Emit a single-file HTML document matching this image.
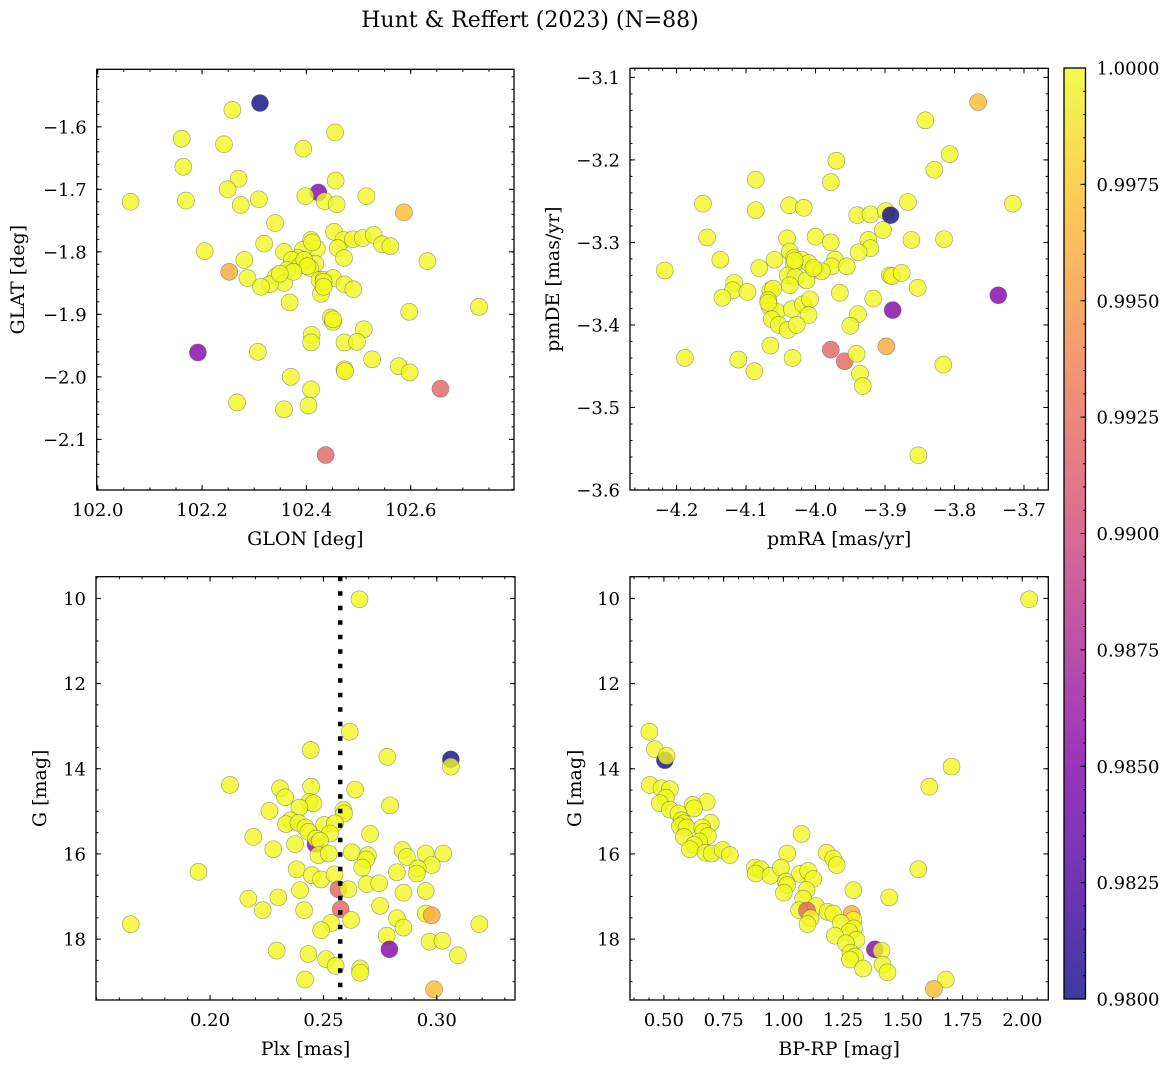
<!DOCTYPE html>
<html><head><meta charset="utf-8"><style>
html,body{margin:0;padding:0;background:#fff;}
svg{display:block;font-family:"DejaVu Serif","Liberation Serif",serif;}
</style></head><body>
<svg id="fig" width="1173" height="1067" viewBox="0 0 1173 1067" xmlns="http://www.w3.org/2000/svg">
<text x="530" y="27" font-size="22" text-anchor="middle">Hunt &amp; Reffert (2023) (N=88)</text>
</svg>
<script>
// ---- data ----
const p1x=[102.311,102.258,102.161,102.242,102.455,102.394,102.164,102.270,102.249,102.456,102.423,102.063,102.169,102.309,102.398,102.435,102.458,102.274,102.515,102.587,102.340,102.453,102.471,102.489,102.508,102.529,102.545,102.561,102.409,102.420,102.460,102.393,102.357,102.319,102.205,102.281,102.472,102.632,102.384,102.372,102.388,102.417,102.407,102.252,102.363,102.342,102.287,102.357,102.330,102.313,102.425,102.433,102.451,102.473,102.490,102.428,102.368,102.597,102.731,102.447,102.451,102.510,102.410,102.409,102.473,102.497,102.192,102.307,102.526,102.473,102.474,102.577,102.598,102.370,102.409,102.657,102.267,102.404,102.357,102.437,102.396,102.433,102.402,102.375,102.349,102.433,102.451,102.411];
const p1y=[-1.562,-1.573,-1.619,-1.628,-1.609,-1.635,-1.664,-1.683,-1.700,-1.686,-1.705,-1.720,-1.718,-1.716,-1.711,-1.719,-1.724,-1.725,-1.711,-1.737,-1.754,-1.768,-1.781,-1.780,-1.778,-1.773,-1.788,-1.791,-1.781,-1.795,-1.794,-1.797,-1.800,-1.787,-1.799,-1.813,-1.810,-1.815,-1.810,-1.813,-1.822,-1.819,-1.826,-1.832,-1.829,-1.839,-1.842,-1.850,-1.852,-1.856,-1.845,-1.845,-1.842,-1.852,-1.860,-1.867,-1.881,-1.896,-1.888,-1.905,-1.912,-1.924,-1.933,-1.945,-1.945,-1.944,-1.961,-1.960,-1.972,-1.988,-1.991,-1.983,-1.993,-2.000,-2.020,-2.019,-2.041,-2.046,-2.052,-2.125,-1.813,-1.848,-1.823,-1.832,-1.835,-1.856,-1.908,-1.785];
const p1c=[0.980,1,1,1,1,1,1,1,1,1,0.985,1,1,1,1,1,1,1,1,0.997,1,1,1,1,1,1,1,1,1,1,1,1,1,1,1,1,1,1,1,1,1,1,1,0.996,1,1,1,1,1,1,1,1,1,1,1,1,1,1,1,1,1,1,1,1,1,1,0.985,1,1,1,1,1,1,1,1,0.992,1,1,1,0.992,1,1,1,1,1,1,1,1];

const p2x=[-3.766,-3.842,-3.807,-3.829,-3.970,-4.086,-3.978,-4.162,-4.086,-4.038,-4.017,-3.867,-3.716,-3.940,-3.921,-3.899,-3.892,-3.903,-4.156,-4.041,-4.000,-3.978,-3.924,-3.921,-3.862,-3.815,-3.938,-4.037,-4.137,-4.059,-4.031,-4.020,-4.010,-4.031,-3.972,-3.977,-3.955,-4.081,-4.001,-3.991,-4.040,-4.029,-3.893,-3.890,-3.876,-4.217,-4.037,-4.013,-4.117,-4.119,-4.098,-4.134,-4.065,-4.061,-3.965,-3.853,-3.737,-3.917,-4.068,-4.066,-4.056,-4.034,-4.018,-4.008,-4.010,-3.889,-3.939,-4.063,-4.053,-4.040,-4.027,-3.950,-4.065,-3.898,-3.978,-3.958,-3.941,-4.188,-4.111,-4.033,-4.088,-3.816,-3.936,-3.932,-3.852,-4.030,-4.003,-4.068];
const p2y=[-3.130,-3.152,-3.193,-3.212,-3.201,-3.224,-3.227,-3.253,-3.261,-3.255,-3.258,-3.251,-3.253,-3.267,-3.266,-3.262,-3.267,-3.285,-3.294,-3.295,-3.293,-3.300,-3.297,-3.307,-3.297,-3.296,-3.312,-3.311,-3.321,-3.321,-3.319,-3.321,-3.325,-3.326,-3.321,-3.329,-3.329,-3.331,-3.333,-3.335,-3.340,-3.342,-3.340,-3.341,-3.337,-3.334,-3.352,-3.346,-3.349,-3.358,-3.360,-3.367,-3.358,-3.356,-3.361,-3.355,-3.364,-3.368,-3.370,-3.377,-3.384,-3.381,-3.375,-3.369,-3.388,-3.382,-3.387,-3.393,-3.400,-3.406,-3.400,-3.401,-3.425,-3.426,-3.430,-3.444,-3.435,-3.440,-3.442,-3.440,-3.456,-3.448,-3.459,-3.474,-3.558,-3.322,-3.331,-3.373];
const p2c=[0.997,1,1,1,1,1,1,1,1,1,1,1,1,1,1,1,0.980,1,1,1,1,1,1,1,1,1,1,1,1,1,1,1,1,1,1,1,1,1,1,1,1,1,1,1,1,1,1,1,1,1,1,1,1,1,1,1,0.985,1,1,1,1,1,1,1,1,0.985,1,1,1,1,1,1,1,0.996,0.992,0.992,1,1,1,1,1,1,1,1,1,1,1,1];

const p3x=[0.2659,0.2616,0.2444,0.2782,0.3062,0.3062,0.2088,0.2309,0.2446,0.2640,0.2331,0.2438,0.2456,0.2394,0.2794,0.2262,0.2588,0.2591,0.2356,0.2335,0.2390,0.2421,0.2434,0.2503,0.2551,0.2529,0.2706,0.2191,0.2465,0.2468,0.2485,0.2375,0.2279,0.2478,0.2524,0.2625,0.2696,0.2688,0.2849,0.2868,0.2951,0.3029,0.2978,0.2916,0.2912,0.2671,0.1949,0.2382,0.2824,0.2449,0.2490,0.2549,0.2691,0.2746,0.2566,0.2610,0.2397,0.2951,0.2853,0.2169,0.2301,0.2750,0.2576,0.2232,0.2415,0.2951,0.2978,0.2824,0.2622,0.2534,0.1650,0.3188,0.2853,0.2490,0.2779,0.2968,0.3025,0.2791,0.2294,0.2434,0.3093,0.2512,0.2554,0.2662,0.2662,0.2419,0.2988];
const p3y=[10.02,13.13,13.56,13.72,13.78,13.95,14.38,14.46,14.42,14.49,14.67,14.78,14.81,14.91,14.86,14.99,14.97,15.05,15.21,15.30,15.27,15.38,15.48,15.32,15.28,15.52,15.53,15.60,15.77,15.64,15.69,15.77,15.89,16.03,15.99,15.96,16.03,16.13,15.91,16.07,15.99,15.99,16.26,16.34,16.46,16.32,16.42,16.36,16.43,16.50,16.60,16.48,16.71,16.69,16.83,16.83,16.85,16.87,16.91,17.05,17.02,17.22,17.30,17.32,17.32,17.40,17.44,17.51,17.55,17.62,17.65,17.65,17.73,17.79,17.92,18.06,18.04,18.24,18.27,18.35,18.38,18.47,18.63,18.69,18.79,18.95,19.18];
const p3c=[1,1,1,1,0.980,1,1,1,1,1,1,1,1,1,1,1,1,1,1,1,1,1,1,1,1,1,1,1,0.985,1,1,1,1,1,1,1,1,1,1,1,1,1,1,1,1,1,1,1,1,1,1,1,1,1,0.992,1,1,1,1,1,1,1,0.992,1,1,1,0.996,1,1,1,1,1,1,1,1,1,1,0.985,1,1,1,1,1,1,1,1,0.997];
const plxRef=[0.2574];

const p4x=[2.029,0.439,0.462,0.504,0.511,1.704,1.611,0.441,0.490,0.525,0.508,0.483,0.679,0.620,0.626,0.525,0.561,0.574,0.583,0.567,0.595,0.696,0.660,0.665,0.684,1.076,0.584,0.648,0.626,0.609,0.674,0.700,0.746,0.776,1.016,1.181,1.209,1.223,0.881,0.905,0.884,0.946,0.990,1.069,1.104,1.125,1.011,1.016,1.565,1.293,1.097,1.083,1.443,1.002,1.136,1.066,1.099,1.185,1.209,1.114,1.101,1.286,1.293,1.241,1.295,1.276,1.216,1.306,1.262,1.383,1.411,1.281,1.300,1.279,1.415,1.334,1.436,1.680,1.630];
const p4y=[10.02,13.13,13.54,13.80,13.70,13.95,14.42,14.38,14.46,14.48,14.68,14.81,14.78,14.85,14.93,14.96,15.05,15.21,15.28,15.35,15.38,15.27,15.38,15.48,15.58,15.53,15.60,15.71,15.79,15.89,15.97,15.99,15.91,16.03,15.99,15.97,16.11,16.26,16.32,16.36,16.46,16.51,16.32,16.47,16.40,16.59,16.65,16.73,16.36,16.85,16.85,17.05,17.02,16.91,17.22,17.32,17.33,17.36,17.40,17.51,17.65,17.41,17.55,17.62,17.75,17.83,17.92,18.02,18.10,18.24,18.27,18.32,18.41,18.48,18.60,18.69,18.78,18.95,19.17];
const p4c=[1,1,1,0.980,1,1,1,1,1,1,1,1,1,1,1,1,1,1,1,1,1,1,1,1,1,1,1,1,1,1,1,1,1,1,1,1,1,1,1,1,1,1,1,1,1,1,1,1,1,1,1,1,1,1,1,1,0.992,1,1,1,1,0.996,1,1,1,1,1,1,1,0.985,1,1,1,1,1,1,1,1,0.997];

const cbTicks=[0.98,0.9825,0.985,0.9875,0.99,0.9925,0.995,0.9975,1.0];

// ---- helpers ----
const NS='http://www.w3.org/2000/svg';
const svg=document.getElementById('fig');
function mk(tag,attrs,parent){const e=document.createElementNS(NS,tag);for(const k in attrs)e.setAttribute(k,attrs[k]);(parent||svg).appendChild(e);return e;}
const plasma=[[13,8,135],[76,2,161],[126,3,168],[169,35,149],[204,71,120],[229,107,93],[248,149,64],[253,197,39],[240,249,33]];
function cmap(v){let t=(v-0.98)/0.02;t=Math.max(0,Math.min(1,t));const s=t*8,i=Math.min(7,Math.floor(s)),f=s-i;const a=plasma[i],b=plasma[i+1];return 'rgb('+a.map((c,k)=>Math.round(c+(b[k]-c)*f)).join(',')+')';}
function fmtNeg(v,d){const s=Math.abs(v).toFixed(d);return (v<-1e-9?'\u2212':'')+s;}
const TF=18, LF=19;

function panel(o){
  const g=mk('g',{});
  
  
  const sx=v=>o.L+(v-o.x0)/(o.x1-o.x0)*(o.R-o.L);
  const sy=v=>o.T+(v-o.y0)/(o.y1-o.y0)*(o.B-o.T);
  const clip=mk('clipPath',{id:'clip-'+o.name},g);
  mk('rect',{x:o.L,y:o.T,width:o.R-o.L,height:o.B-o.T},clip);
  const pts=mk('g',{'clip-path':'url(#clip-'+o.name+')'},g);
  
  
  for(let i=0;i<o.xs.length;i++){
    const c=mk('circle',{cx:sx(o.xs[i]),cy:sy(o.ys[i]),r:8.5,fill:cmap(o.cs[i]),'fill-opacity':0.8,stroke:'#555','stroke-opacity':0.6,'stroke-width':0.6},pts);
    
    
  }
  if(o.vline){
    const l=mk('line',{x1:sx(o.vline),x2:sx(o.vline),y1:o.T,y2:o.B,stroke:'#000','stroke-width':4.5,'stroke-dasharray':'4.5 10'},g);
    
    
  }
  const tk=mk('g',{stroke:'#000','stroke-width':1},g);
  for(let v=o.xmin0;v<=o.x1+1e-9;v+=o.xmin){if(v<o.x0-1e-9)continue;const X=sx(v);mk('line',{x1:X,x2:X,y1:o.B,y2:o.B-2.5},tk);mk('line',{x1:X,x2:X,y1:o.T,y2:o.T+2.5},tk);}
  const ymin=Math.min(o.y0,o.y1),ymax=Math.max(o.y0,o.y1);
  for(let v=o.ymin0;v<=ymax+1e-9;v+=o.ymin){if(v<ymin-1e-9)continue;const Y=sy(v);mk('line',{x1:o.L,x2:o.L+2.5,y1:Y,y2:Y},tk);mk('line',{x1:o.R,x2:o.R-2.5,y1:Y,y2:Y},tk);}
  o.xt.forEach(v=>{const X=sx(v);mk('line',{x1:X,x2:X,y1:o.B,y2:o.B-5},tk);mk('line',{x1:X,x2:X,y1:o.T,y2:o.T+5},tk);
    const t=mk('text',{x:X,y:o.B+26,'font-size':TF,'text-anchor':'middle'},g);t.textContent=o.xf(v);
    });
  o.yt.forEach(v=>{const Y=sy(v);mk('line',{x1:o.L,x2:o.L+5,y1:Y,y2:Y},tk);mk('line',{x1:o.R,x2:o.R-5,y1:Y,y2:Y},tk);
    const t=mk('text',{x:o.L-10,y:Y+6.5,'font-size':TF,'text-anchor':'end'},g);t.textContent=o.yf(v);
    });
  const fr=mk('rect',{x:o.L,y:o.T,width:o.R-o.L,height:o.B-o.T,fill:'none',stroke:'#000','stroke-width':1.3},g);
  
  const xl=mk('text',{x:(o.L+o.R)/2,y:o.B+55,'font-size':LF,'text-anchor':'middle'},g);xl.textContent=o.xlab;
  
  const yx=o.ylx,yy=(o.T+o.B)/2;
  const yl=mk('text',{x:yx,y:yy,'font-size':LF,'text-anchor':'middle',transform:'rotate(-90 '+yx+' '+yy+')'},g);yl.textContent=o.ylab;
  
}
const rng=(a,b,s)=>{const r=[];for(let v=a;v<=b+1e-9;v+=s)r.push(+v.toFixed(6));return r;};

panel({name:'glon-glat-panel',L:96.7,R:514,T:69.3,B:490,x0:101.998,x1:102.798,y0:-1.508,y1:-2.181,
  xs:p1x,ys:p1y,cs:p1c,xt:rng(102.0,102.6,0.2),yt:rng(-2.1,-1.6,0.1),xmin0:102.0,xmin:0.05,ymin0:-2.18,ymin:0.02,
  xf:v=>v.toFixed(1),yf:v=>fmtNeg(v,1),xlab:'GLON [deg]',ylab:'GLAT [deg]',ylx:24});
panel({name:'proper-motion-panel',L:630,R:1048.3,T:68.3,B:490,x0:-4.267,x1:-3.665,y0:-3.089,y1:-3.6,
  xs:p2x,ys:p2y,cs:p2c,xt:rng(-4.2,-3.7,0.1),yt:rng(-3.6,-3.1,0.1),xmin0:-4.26,xmin:0.02,ymin0:-3.6,ymin:0.02,
  xf:v=>fmtNeg(v,1),yf:v=>fmtNeg(v,1),xlab:'pmRA [mas/yr]',ylab:'pmDE [mas/yr]',ylx:559});
panel({name:'parallax-magnitude-panel',L:96,R:515,T:576.7,B:1000,x0:0.1497,x1:0.3345,y0:9.49,y1:19.43,
  xs:p3x,ys:p3y,cs:p3c,xt:[0.20,0.25,0.30],yt:[10,12,14,16,18],xmin0:0.15,xmin:0.01,ymin0:9.5,ymin:0.5,vline:plxRef[0],
  xf:v=>v.toFixed(2),yf:v=>String(v),xlab:'Plx [mas]',ylab:'G [mag]',ylx:46});
panel({name:'color-magnitude-panel',L:630,R:1048.3,T:576.7,B:1000,x0:0.358,x1:2.109,y0:9.49,y1:19.43,
  xs:p4x,ys:p4y,cs:p4c,xt:rng(0.5,2.0,0.25),yt:[10,12,14,16,18],xmin0:0.375,xmin:0.0625,ymin0:9.5,ymin:0.5,
  xf:v=>v.toFixed(2),yf:v=>String(v),xlab:'BP-RP [mag]',ylab:'G [mag]',ylx:581});

// ---- colorbar ----
(function(){
  const L=1064,R=1085.5,T=68,B=999;
  const g=mk('g',{});
  
  
  const defs=mk('defs',{},g);
  const lg=mk('linearGradient',{id:'cbgrad',x1:0,y1:1,x2:0,y2:0},defs);
  for(let i=0;i<=16;i++){mk('stop',{offset:i/16,'stop-color':cmap(0.98+0.02*i/16),'stop-opacity':0.8},lg);}
  mk('rect',{x:L,y:T,width:R-L,height:B-T,fill:'url(#cbgrad)'},g);
  const sy=v=>B-(v-0.98)/0.02*(B-T);
  for(let i=0;i<=40;i++){const Y=sy(0.98+i*0.0005);mk('line',{x1:R,x2:R-2.5,y1:Y,y2:Y,stroke:'#000','stroke-width':1},g);}
  cbTicks.forEach(v=>{const Y=sy(v);mk('line',{x1:R,x2:R-5,y1:Y,y2:Y,stroke:'#000','stroke-width':1},g);
    const t=mk('text',{x:R+11,y:Y+6.5,'font-size':TF},g);t.textContent=v.toFixed(4);
    });
  mk('rect',{x:L,y:T,width:R-L,height:B-T,fill:'none',stroke:'#000','stroke-width':1.3},g);
})();
</script>
</body></html>
